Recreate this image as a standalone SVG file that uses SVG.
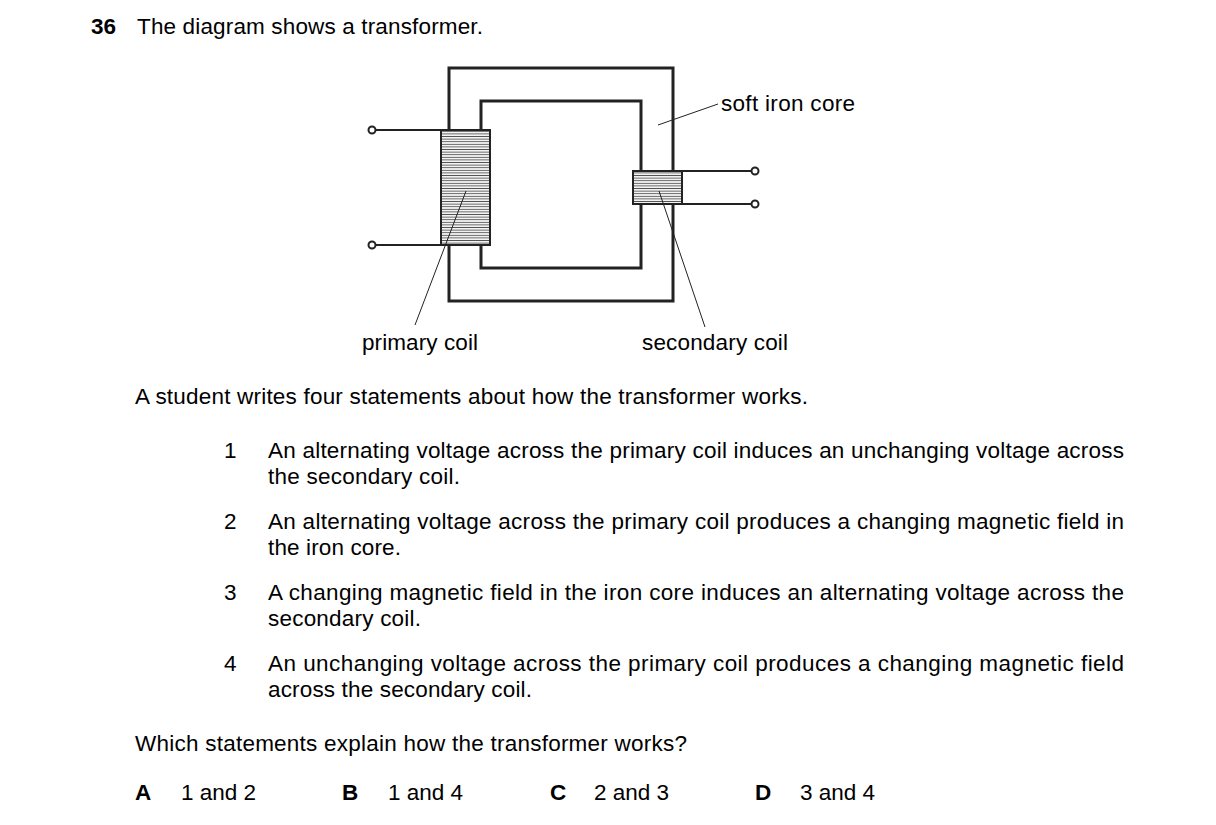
<svg xmlns="http://www.w3.org/2000/svg" width="1216" height="825" viewBox="0 0 1216 825">
<style>
text{font-family:"Liberation Sans",Arial,sans-serif;font-size:22.5px;fill:#000}
.b{font-weight:bold}
.k{fill:none;stroke:#222;stroke-width:3}
.w{stroke:#222;stroke-width:2;fill:none}
.l{stroke:#222;stroke-width:1;fill:none}
.t{fill:#fff;stroke:#222;stroke-width:2}
</style>
<defs>
<pattern id="h" width="10" height="2.6" patternUnits="userSpaceOnUse">
<rect width="10" height="2.6" fill="#fff"/><line x1="0" y1="1.3" x2="10" y2="1.3" stroke="#555" stroke-width="1"/>
</pattern>
</defs>
<rect width="1216" height="825" fill="#fff"/>
<text x="91" y="34" class="b">36</text><text x="137" y="34" textLength="346" lengthAdjust="spacing">The diagram shows a transformer.</text>
<g id="core"><rect class="k" x="449" y="68" width="224" height="233"/><rect class="k" x="481" y="101" width="160" height="167"/></g>
<g id="wires">
<line class="w" x1="375" y1="130" x2="441" y2="130"/><line class="w" x1="375" y1="245" x2="441" y2="245"/>
<line class="w" x1="682" y1="171" x2="752" y2="171"/><line class="w" x1="682" y1="204" x2="752" y2="204"/>
<circle class="t" cx="372" cy="130" r="3.5"/><circle class="t" cx="372" cy="245" r="3.5"/>
<circle class="t" cx="755" cy="171" r="3.5"/><circle class="t" cx="755" cy="204" r="3.5"/>
</g>
<g id="primary"><rect x="441" y="130" width="49" height="115" fill="url(#h)" stroke="#222" stroke-width="2"/></g>
<g id="secondary"><rect x="633" y="171" width="49" height="33" fill="url(#h)" stroke="#222" stroke-width="2"/></g>
<g id="connectors">
<line class="l" x1="658" y1="125" x2="718" y2="104"/>
<line class="l" x1="466" y1="191" x2="415" y2="325"/>
<line class="l" x1="659" y1="191" x2="705" y2="327"/>
</g>
<text x="721" y="111" textLength="134" lengthAdjust="spacing">soft iron core</text>
<text x="362" y="350" textLength="116" lengthAdjust="spacing">primary coil</text>
<text x="642" y="350" textLength="146" lengthAdjust="spacing">secondary coil</text>
<text x="135" y="404" textLength="673" lengthAdjust="spacing">A student writes four statements about how the transformer works.</text>
<text x="224" y="458">1</text><text x="268" y="458" textLength="856" lengthAdjust="spacing">An alternating voltage across the primary coil induces an unchanging voltage across</text><text x="268" y="484" textLength="192" lengthAdjust="spacing">the secondary coil.</text>
<text x="224" y="529">2</text><text x="268" y="529" textLength="856" lengthAdjust="spacing">An alternating voltage across the primary coil produces a changing magnetic field in</text><text x="268" y="555" textLength="133" lengthAdjust="spacing">the iron core.</text>
<text x="224" y="600">3</text><text x="268" y="600" textLength="856" lengthAdjust="spacing">A changing magnetic field in the iron core induces an alternating voltage across the</text><text x="268" y="626" textLength="153" lengthAdjust="spacing">secondary coil.</text>
<text x="224" y="671">4</text><text x="268" y="671" textLength="856" lengthAdjust="spacing">An unchanging voltage across the primary coil produces a changing magnetic field</text><text x="268" y="697" textLength="264" lengthAdjust="spacing">across the secondary coil.</text>
<text x="135" y="751" textLength="552" lengthAdjust="spacing">Which statements explain how the transformer works?</text>
<text x="135" y="800" class="b">A</text><text x="181" y="800" textLength="75" lengthAdjust="spacing">1 and 2</text>
<text x="342" y="800" class="b">B</text><text x="388" y="800" textLength="75" lengthAdjust="spacing">1 and 4</text>
<text x="550" y="800" class="b">C</text><text x="594" y="800" textLength="75" lengthAdjust="spacing">2 and 3</text>
<text x="755" y="800" class="b">D</text><text x="800" y="800" textLength="75" lengthAdjust="spacing">3 and 4</text>
</svg>
